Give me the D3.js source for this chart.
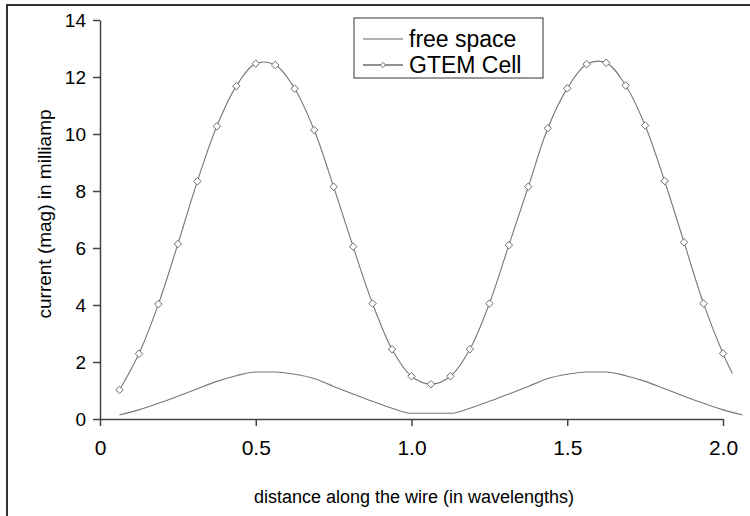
<!DOCTYPE html>
<html>
<head>
<meta charset="utf-8">
<script src="https://cdn.jsdelivr.net/npm/d3@7"></script>
<style>
  body { margin: 0; background: #fff; }
  svg { display: block; font-family: "Liberation Sans", Arial, sans-serif; }
</style>
</head>
<body>
<div id="chart"></div>
<script>
// distance along the wire, in wavelengths
var distance = [0.0625, 0.125, 0.1875, 0.25, 0.3125, 0.375, 0.4375, 0.5,
                0.5625, 0.625, 0.6875, 0.75, 0.8125, 0.875, 0.9375, 1.0,
                1.0625, 1.125, 1.1875, 1.25, 1.3125, 1.375, 1.4375, 1.5,
                1.5625, 1.625, 1.6875, 1.75, 1.8125, 1.875, 1.9375, 2.0, 2.0625];

// current magnitude (milliamp)
var freeSpace = [0.14, 0.32, 0.55, 0.8, 1.06, 1.32, 1.52, 1.65,
                 1.65, 1.57, 1.42, 1.14, 0.88, 0.62, 0.38, 0.2,
                 0.2, 0.2, 0.38, 0.62, 0.88, 1.14, 1.42, 1.57,
                 1.65, 1.65, 1.52, 1.32, 1.06, 0.8, 0.55, 0.32, 0.14];

var gtemCell = [1.02, 2.29, 4.03, 6.14, 8.34, 10.27, 11.68, 12.47,
                12.42, 11.59, 10.14, 8.15, 6.05, 4.05, 2.45, 1.5,
                1.22, 1.5, 2.45, 4.05, 6.1, 8.15, 10.2, 11.6,
                12.45, 12.5, 11.7, 10.3, 8.35, 6.2, 4.05, 2.3];
// last point of the GTEM line (no marker)
var gtemEndX = 2.03, gtemEndY = 1.6;

var xTicks = [0, 0.5, 1.0, 1.5, 2.0];
var yTicks = [0, 2, 4, 6, 8, 10, 12, 14];
var seriesNames = ["free space", "GTEM Cell"];

var width = 750, height = 516;

var svg = d3.select("#chart").append("svg")
    .attr("width", width)
    .attr("height", height);

// outer frame (runs off the right and bottom edges)
svg.append("rect")
    .attr("x", 7).attr("y", 5)
    .attr("width", 800).attr("height", 600)
    .attr("fill", "none")
    .attr("stroke", "#333")
    .attr("stroke-width", 2);

var x = d3.scaleLinear().domain([0, 2]).range([100, 723]);
var y = d3.scaleLinear().domain([0, 14]).range([419, 20]);

var xAxis = d3.axisBottom(x)
    .tickValues(xTicks)
    .tickSize(7)
    .tickSizeOuter(0)
    .tickPadding(14)
    .tickFormat(function(d) { return d === 0 ? "0" : d3.format(".1f")(d); });

var yAxis = d3.axisLeft(y)
    .tickValues(yTicks)
    .tickSize(7)
    .tickSizeOuter(0)
    .tickPadding(7);

var gx = svg.append("g")
    .attr("transform", "translate(0," + y(0) + ")")
    .call(xAxis);
gx.selectAll("text").attr("font-size", 21).attr("fill", "#000");

var gy = svg.append("g")
    .attr("transform", "translate(" + x(0) + ",0)")
    .call(yAxis);
gy.selectAll("text").attr("font-size", 19).attr("fill", "#000");

svg.selectAll(".domain, .tick line")
    .attr("stroke", "#444")
    .attr("stroke-width", 1.5);

// axis titles
svg.append("text")
    .attr("x", 414).attr("y", 503)
    .attr("text-anchor", "middle")
    .attr("font-size", 18)
    .text("distance along the wire (in wavelengths)");

svg.append("text")
    .attr("transform", "translate(51,214) rotate(-90)")
    .attr("text-anchor", "middle")
    .attr("font-size", 19)
    .text("current (mag) in milliamp");

// free space line
var freeLine = d3.line()
    .x(function(d, i) { return x(distance[i]); })
    .y(function(d) { return y(d); })
    .curve(d3.curveMonotoneX);

svg.append("path")
    .datum(freeSpace)
    .attr("fill", "none")
    .attr("stroke", "#777")
    .attr("stroke-width", 1.1)
    .attr("d", freeLine);

// GTEM cell line
var gtemPts = gtemCell.map(function(v, i) { return [distance[i], v]; });
gtemPts.push([gtemEndX, gtemEndY]);

var gtemLine = d3.line()
    .x(function(d) { return x(d[0]); })
    .y(function(d) { return y(d[1]); })
    .curve(d3.curveCatmullRom);

svg.append("path")
    .datum(gtemPts)
    .attr("fill", "none")
    .attr("stroke", "#777")
    .attr("stroke-width", 1.1)
    .attr("d", gtemLine);

var diamond = d3.symbol().type(d3.symbolSquare).size(28);

svg.selectAll(".marker")
    .data(gtemCell)
    .enter().append("path")
    .attr("class", "marker")
    .attr("transform", function(d, i) {
        return "translate(" + x(distance[i]) + "," + y(d) + ") rotate(45)";
    })
    .attr("d", diamond)
    .attr("fill", "#fff")
    .attr("stroke", "#666")
    .attr("stroke-width", 0.9);

// legend
var lg = svg.append("g");
lg.append("rect")
    .attr("x", 354).attr("y", 18)
    .attr("width", 189).attr("height", 60)
    .attr("fill", "#fff")
    .attr("stroke", "#555")
    .attr("stroke-width", 1.2);

var rowY = [39, 65];
lg.append("line")
    .attr("x1", 363).attr("x2", 403)
    .attr("y1", rowY[0]).attr("y2", rowY[0])
    .attr("stroke", "#666").attr("stroke-width", 1.1);
lg.append("line")
    .attr("x1", 363).attr("x2", 403)
    .attr("y1", rowY[1]).attr("y2", rowY[1])
    .attr("stroke", "#222").attr("stroke-width", 1.1);
lg.append("path")
    .attr("transform", "translate(383," + rowY[1] + ") rotate(45)")
    .attr("d", d3.symbol().type(d3.symbolSquare).size(14))
    .attr("fill", "#fff")
    .attr("stroke", "#666")
    .attr("stroke-width", 0.9);

lg.selectAll(".ltext")
    .data(seriesNames)
    .enter().append("text")
    .attr("class", "ltext")
    .attr("x", 409)
    .attr("y", function(d, i) { return rowY[i]; })
    .attr("dy", "0.36em")
    .attr("font-size", 23)
    .text(function(d) { return d; });
</script>
</body>
</html>
